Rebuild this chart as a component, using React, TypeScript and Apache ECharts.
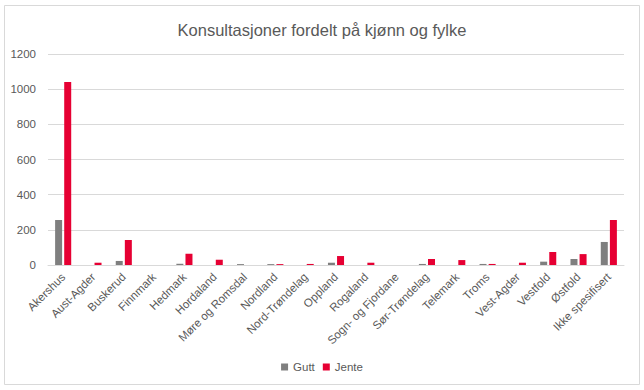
import React, { useEffect, useRef } from "react";
import * as echarts from "echarts";

const categories = [
  "Akershus", "Aust-Agder", "Buskerud", "Finnmark", "Hedmark", "Hordaland",
  "Møre og Romsdal", "Nordland", "Nord-Trøndelag", "Oppland", "Rogaland",
  "Sogn- og Fjordane", "Sør-Trøndelag", "Telemark", "Troms", "Vest-Agder",
  "Vestfold", "Østfold", "Ikke spesifisert",
];
const gutt = [256, 0, 23, 0, 7, 0, 5, 5, 0, 13, 0, 0, 6, 0, 6, 0, 19, 34, 131];
const jente = [1041, 13, 142, 0, 64, 30, 0, 5, 6, 51, 13, 0, 34, 28, 6, 13, 74, 62, 256];
const yTicks = { min: 0, max: 1200, interval: 200 };

const FONT = "'Liberation Sans', 'Noto Sans', sans-serif";
const TXT = "#595959";

export default function App() {
  const ref = useRef<HTMLDivElement>(null);
  useEffect(() => {
    const chart = echarts.init(ref.current!, null, { renderer: "svg" });
    chart.setOption({
      animation: false,
      backgroundColor: "#ffffff",
      textStyle: { fontFamily: FONT },
      title: {
        text: "Konsultasjoner fordelt på kjønn og fylke",
        left: "center",
        top: 16,
        textStyle: { fontFamily: FONT, fontSize: 16.5, fontWeight: "normal", color: TXT },
      },
      graphic: [
        {
          type: "rect",
          shape: { x: 4.5, y: 5.5, width: 635, height: 379 },
          style: { fill: "none", stroke: "#d9d9d9", lineWidth: 1 },
          silent: true,
        },
      ],
      legend: {
        data: ["Gutt", "Jente"],
        left: "center",
        top: 356,
        itemWidth: 7,
        itemHeight: 7,
        itemGap: 8,
        icon: "rect",
        textStyle: { fontFamily: FONT, fontSize: 11.5, color: TXT },
      },
      grid: { left: 48, right: 20, top: 54, bottom: 125, containLabel: false },
      xAxis: {
        type: "category",
        data: categories,
        axisLine: { lineStyle: { color: "#d9d9d9" } },
        axisTick: { show: false },
        axisLabel: {
          rotate: 45,
          interval: 0,
          margin: 10,
          fontFamily: FONT,
          fontSize: 11.5,
          color: TXT,
        },
      },
      yAxis: {
        type: "value",
        min: yTicks.min,
        max: yTicks.max,
        interval: yTicks.interval,
        axisLine: { show: false },
        axisTick: { show: false },
        splitLine: { lineStyle: { color: "#d9d9d9" } },
        axisLabel: {
          margin: 12,
          fontFamily: FONT,
          fontSize: 11.5,
          color: TXT,
          formatter: (v: number) => String(v),
        },
      },
      series: [
        {
          name: "Gutt",
          type: "bar",
          data: gutt,
          barWidth: 7,
          barGap: "30%",
          itemStyle: { color: "#7f7f7f" },
        },
        {
          name: "Jente",
          type: "bar",
          data: jente,
          barWidth: 7,
          itemStyle: { color: "#e60033" },
        },
      ],
    });
    return () => chart.dispose();
  }, []);
  return (
    <div
      ref={ref}
      style={{ width: 644, height: 390, position: "absolute", left: 0, top: 0 }}
    />
  );
}
